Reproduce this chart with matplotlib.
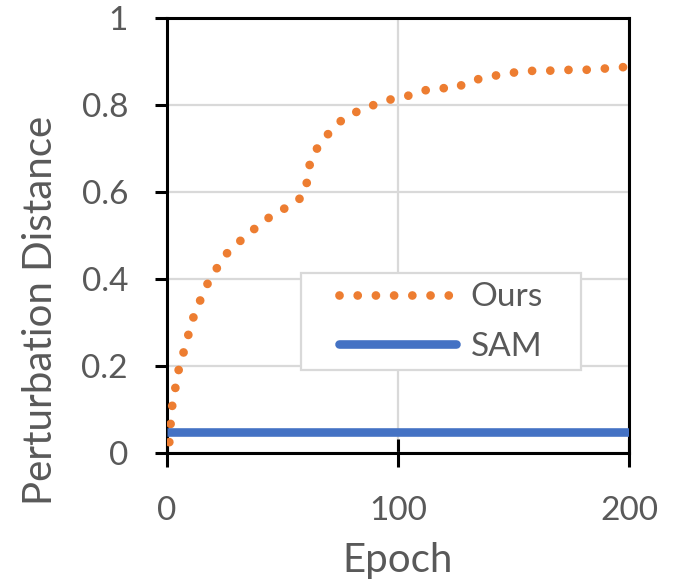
import matplotlib
matplotlib.use('Agg')
import matplotlib.pyplot as plt
from matplotlib.patches import Rectangle

# values
ours_epoch = [1, 2, 3, 4, 5, 7, 9, 11, 14, 17, 21, 25, 30, 35, 41, 47, 54, 59,
              61, 62, 66, 71, 76, 83, 90, 97, 105, 112, 119, 124, 131, 138,
              146, 153, 160, 168, 175, 183, 190, 200]
ours_dist = [0.025, 0.10, 0.133, 0.16, 0.19, 0.228, 0.267, 0.306, 0.346, 0.384,
             0.42, 0.454, 0.48, 0.502, 0.53, 0.551, 0.571, 0.591, 0.631, 0.672,
             0.71, 0.741, 0.767, 0.787, 0.801, 0.813, 0.822, 0.834, 0.839,
             0.837, 0.854, 0.864, 0.871, 0.877, 0.879, 0.879, 0.881, 0.881,
             0.884, 0.888]
sam_epoch = [0, 200]
sam_dist = [0.048, 0.048]

x_ticks = [0, 100, 200]
y_ticks = [0, 0.2, 0.4, 0.6, 0.8, 1]
y_tick_labels = ['0', '0.2', '0.4', '0.6', '0.8', '1']

ORANGE = '#ED7D31'
BLUE = '#4472C4'
TEXT = '#595959'
GRID = '#D9D9D9'

plt.rcParams['font.family'] = ['Lato', 'DejaVu Sans']
FS = 24        # tick labels, legend
FS_TITLE = 29  # axis titles

W, H = 688, 585
fig = plt.figure(figsize=(W / 100, H / 100), dpi=100)
ax = fig.add_axes([167 / W, 132 / H, 462 / W, 435 / H])

ax.plot(ours_epoch, ours_dist, color=ORANGE, linewidth=6.3,
        dashes=[0.001, 2.08], dash_capstyle='round', label='Ours', zorder=3)
ax.plot(sam_epoch, sam_dist, color=BLUE, linewidth=6.2,
        solid_capstyle='butt', label='SAM', zorder=3)

ax.set_xlim(0, 200)
ax.set_ylim(0, 1)
ax.set_xticks(x_ticks)
ax.set_yticks(y_ticks)
ax.set_yticklabels(y_tick_labels)
ax.grid(True, color=GRID, linewidth=1.6, zorder=0)
ax.set_axisbelow(True)

for s in ax.spines.values():
    s.set_linewidth(2.2)
    s.set_color('black')
ax.tick_params(axis='y', direction='out', length=9, width=2.2,
               labelsize=FS, labelcolor=TEXT, pad=19)
ax.tick_params(axis='x', direction='inout', length=20, width=2.2,
               labelsize=FS, labelcolor=TEXT, pad=21)

# axis titles placed by their baselines (Excel puts them lower than centred)
ax.set_xlabel('Epoch', fontsize=FS_TITLE, color=TEXT)
ax.xaxis.label.set_va('baseline')
ax.xaxis.set_label_coords(0.5, (453 - 572) / 435)
ax.set_ylabel('Perturbation Distance', fontsize=FS_TITLE, color=TEXT)
ax.yaxis.label.set_va('baseline')
ax.yaxis.label.set_rotation_mode('anchor')
ax.yaxis.set_label_coords((52 - 167) / 462, (453 - 310) / 435)

# legend box drawn by hand: Excel pads far more at the sides than at top/bottom
ax.add_patch(Rectangle((0.290, 0.191), 0.606, 0.223, transform=ax.transAxes,
                       facecolor='white', edgecolor=GRID, linewidth=1.6,
                       zorder=4, clip_on=False))
leg = ax.legend(handles=ax.get_lines(), frameon=False, loc='center',
                bbox_to_anchor=(441 / W, 1 - 322 / H),
                bbox_transform=fig.transFigure, fontsize=FS,
                handlelength=3.5, handletextpad=0.45, labelspacing=0.57,
                borderpad=0, labelcolor=TEXT)
leg.set_zorder(5)
for h in leg.legend_handles:
    if h.get_label() == 'SAM':
        h.set_solid_capstyle('round')

fig.savefig('out.png', dpi=100)
